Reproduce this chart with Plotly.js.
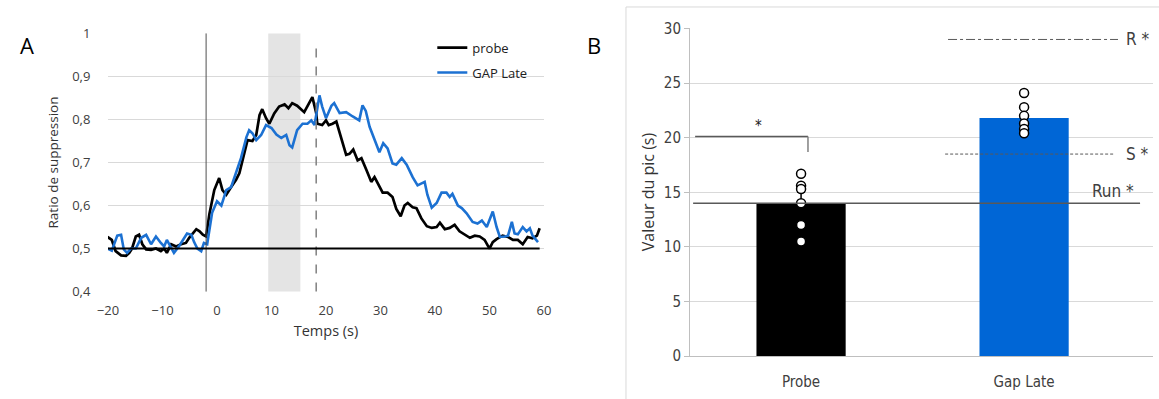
<!DOCTYPE html>
<html>
<head>
<meta charset="utf-8">
<script src="https://cdn.plot.ly/plotly-3.0.1.min.js"></script>
<style>html,body{margin:0;padding:0;background:#fff}#chart{width:1159px;height:399px}</style>
</head>
<body>
<div id="chart"></div>
<script>
// ---------- Panel A data (time course) ----------
const tProbe = [-20.1,-19.3,-18.6,-17.6,-16.7,-16.1,-15.6,-14.9,-14.3,-13.7,-13,-12.1,-11.2,-10.3,-9.7,-9.2,-8.4,-7.5,-6.6,-5.7,-5.1,-4.5,-3.8,-3.2,-2.6,-2.0,-1.4,-0.5,0.4,1.0,1.7,2.6,3.5,4.1,5.0,5.6,6.5,7.2,7.8,8.3,9.0,9.6,10.5,11.4,12.4,13.1,13.8,14.7,16.0,16.9,17.5,18.2,18.4,19.3,20.0,20.5,21.2,21.9,22.5,22.8,23.7,24.3,25.0,25.8,26.5,27.4,28.3,28.9,29.4,30.4,31.3,32.2,32.9,33.7,34.4,35.0,35.9,36.6,37.5,38.5,39.4,40.3,40.9,41.8,42.7,43.6,44.5,45.4,46.4,47.3,48.2,49.1,50.0,50.6,51.3,52.4,53.4,54.3,55.2,56.1,57.0,57.9,58.7,59.2];
const vProbe = [0.527,0.52,0.494,0.484,0.483,0.49,0.50,0.528,0.532,0.51,0.498,0.497,0.50,0.494,0.50,0.49,0.51,0.505,0.51,0.513,0.525,0.535,0.545,0.54,0.532,0.528,0.58,0.636,0.664,0.636,0.625,0.643,0.66,0.675,0.724,0.752,0.75,0.764,0.81,0.824,0.803,0.79,0.814,0.83,0.835,0.826,0.838,0.832,0.817,0.84,0.852,0.815,0.79,0.787,0.798,0.787,0.79,0.795,0.77,0.752,0.718,0.72,0.73,0.705,0.71,0.683,0.655,0.666,0.653,0.63,0.63,0.62,0.592,0.575,0.6,0.606,0.596,0.594,0.57,0.552,0.548,0.55,0.56,0.545,0.548,0.555,0.54,0.533,0.525,0.53,0.528,0.52,0.50,0.515,0.522,0.53,0.527,0.52,0.52,0.51,0.527,0.524,0.53,0.547];
const tGap = [-20.1,-19.3,-18.3,-17.6,-17.1,-16.5,-15.8,-14.9,-13.9,-13.0,-12.1,-11.2,-10.3,-9.7,-9.2,-8.4,-7.9,-7.0,-6.0,-5.5,-4.7,-4.2,-3.6,-2.9,-2.4,-1.8,-0.9,0.0,0.8,1.7,2.6,3.5,4.4,5.4,5.9,6.5,7.2,8.1,9.0,10.0,10.9,11.8,12.7,13.3,13.8,14.7,15.7,16.6,17.3,17.9,18.8,19.3,20.0,21.0,21.5,22.5,23.7,24.9,26.1,26.7,27.3,28.0,28.9,29.8,30.5,31.3,32.2,32.9,33.9,34.8,35.9,36.8,38.1,38.6,39.4,40.3,41.2,42.1,42.7,43.2,44.2,44.9,45.8,46.9,47.8,48.6,49.5,50.6,51.3,51.9,52.8,53.4,54.1,54.6,55.2,56.1,56.8,57.4,57.9,58.9];
const vGap = [0.50,0.495,0.53,0.532,0.498,0.49,0.50,0.50,0.525,0.532,0.51,0.528,0.513,0.505,0.52,0.50,0.49,0.505,0.525,0.535,0.532,0.515,0.50,0.494,0.513,0.51,0.583,0.61,0.60,0.636,0.643,0.675,0.71,0.759,0.775,0.768,0.752,0.764,0.787,0.78,0.765,0.757,0.764,0.74,0.735,0.775,0.79,0.79,0.798,0.787,0.856,0.83,0.803,0.832,0.838,0.815,0.817,0.807,0.798,0.833,0.82,0.783,0.752,0.724,0.745,0.733,0.698,0.695,0.71,0.695,0.666,0.647,0.655,0.625,0.595,0.606,0.63,0.63,0.62,0.627,0.60,0.594,0.582,0.562,0.558,0.565,0.55,0.586,0.55,0.527,0.528,0.53,0.562,0.535,0.533,0.55,0.54,0.547,0.53,0.515];
const seriesNames = ["probe", "GAP Late"];
const xTicksA = [-20,-10,0,10,20,30,40,50,60];
const yTicksA = [0.4,0.5,0.6,0.7,0.8,0.9,1];
const yTickTextA = ["0,4","0,5","0,6","0,7","0,8","0,9","1"];
const chanceLevel = 0.5;
const onsetTime = -2;
const bandTimes = [9.4, 15.3];
const dashedTime = 18.2;

// ---------- Panel B data (peak values) ----------
const groups = ["Probe", "Gap Late"];
const peakMeans = [14.0, 21.8];
const peakErr = [1.0, 0.8];
const probePoints = [16.7, 15.6, 15.3, 14.0, 12.0, 10.5];
const gapPoints = [24.1, 22.8, 22.0, 21.3, 20.8, 20.4];
const refNames = ["Run *", "S *", "R *"];
const refValues = [14.0, 18.5, 29.0];
const bracketValues = [20.1, 18.7];

const fontA = "Open Sans, Noto Sans, sans-serif";
const fontB = "Liberation Sans Narrow, DejaVu Sans Condensed, Arial Narrow, sans-serif";

const traces = [
  {x: tProbe, y: vProbe, type: "scatter", mode: "lines", name: seriesNames[0],
   line: {color: "#000000", width: 2.7}, xaxis: "x", yaxis: "y", legendgroup: "a"},
  {x: tGap, y: vGap, type: "scatter", mode: "lines", name: seriesNames[1],
   line: {color: "#1c71d2", width: 2.6}, xaxis: "x", yaxis: "y", legendgroup: "b"},
  {x: groups, y: peakMeans, type: "bar", width: 0.4, showlegend: false,
   marker: {color: ["#000000", "#0066d6"]},
   error_y: {type: "data", array: peakErr, visible: true, color: "#000", thickness: 1.5, width: 4},
   xaxis: "x2", yaxis: "y2"},
  {x: probePoints.map(() => groups[0]), y: probePoints, type: "scatter", mode: "markers", showlegend: false,
   marker: {symbol: "circle", size: 9, color: "#ffffff", line: {color: "#000", width: 1.5}},
   xaxis: "x2", yaxis: "y2"},
  {x: gapPoints.map(() => groups[1]), y: gapPoints, type: "scatter", mode: "markers", showlegend: false,
   marker: {symbol: "circle", size: 9, color: "#ffffff", line: {color: "#000", width: 1.5}},
   xaxis: "x2", yaxis: "y2"}
];

const shapes = [
  {type: "rect", xref: "x", yref: "y", x0: bandTimes[0], x1: bandTimes[1], y0: 0.4, y1: 1,
   fillcolor: "#e4e4e4", line: {width: 0}, layer: "below"},
  {type: "line", xref: "x", yref: "y", x0: onsetTime, x1: onsetTime, y0: 0.4, y1: 1,
   line: {color: "#505050", width: 1}},
  {type: "line", xref: "x", yref: "y", x0: dashedTime, x1: dashedTime, y0: 0.4, y1: 0.985,
   line: {color: "#808080", width: 1.5, dash: "dash"}},
  {type: "line", xref: "x", yref: "y", x0: -20, x1: 59.2, y0: chanceLevel, y1: chanceLevel,
   line: {color: "#000", width: 2}},
  {type: "rect", xref: "paper", yref: "paper", x0: 0.5401, x1: 1.01, y0: -0.01, y1: 0.9825,
   line: {color: "#d9d9d9", width: 1}, fillcolor: "rgba(0,0,0,0)"},
  {type: "line", xref: "x2", yref: "y2", x0: -0.484, x1: 1.52, y0: refValues[0], y1: refValues[0],
   line: {color: "#595959", width: 1.5}},
  {type: "line", xref: "x2", yref: "y2", x0: 0.646, x1: 1.408, y0: refValues[1], y1: refValues[1],
   line: {color: "#595959", width: 1, dash: "3px,2px"}},
  {type: "line", xref: "x2", yref: "y2", x0: 0.659, x1: 1.421, y0: refValues[2], y1: refValues[2],
   line: {color: "#595959", width: 1, dash: "dashdot"}},
  {type: "line", xref: "x2", yref: "y2", x0: -0.475, x1: 0.031, y0: bracketValues[0], y1: bracketValues[0],
   line: {color: "#595959", width: 1.5}},
  {type: "line", xref: "x2", yref: "y2", x0: 0.031, x1: 0.031, y0: bracketValues[0], y1: bracketValues[1],
   line: {color: "#808080", width: 1.5}}
];

const annotations = [
  {text: "A", xref: "paper", yref: "paper", x: 18/1159, y: 1 - 28/399, showarrow: false,
   font: {family: fontA, size: 22, color: "#000"}},
  {text: "B", xref: "paper", yref: "paper", x: 594/1159, y: 1 - 28/399, showarrow: false,
   font: {family: fontA, size: 22, color: "#000"}},
  {text: refNames[0], xref: "x2", yref: "y2", x: 1.50, y: refValues[0], yanchor: "bottom", xanchor: "right",
   showarrow: false, font: {family: fontB, size: 17, color: "#404040"}},
  {text: refNames[1], xref: "x2", yref: "y2", x: 1.45, y: refValues[1], xanchor: "left",
   showarrow: false, font: {family: fontB, size: 17, color: "#404040"}},
  {text: refNames[2], xref: "x2", yref: "y2", x: 1.45, y: refValues[2], xanchor: "left",
   showarrow: false, font: {family: fontB, size: 17, color: "#404040"}},
  {text: "*", xref: "x2", yref: "y2", x: -0.19, y: bracketValues[0], yanchor: "bottom",
   showarrow: false, font: {family: fontB, size: 15, color: "#202020"}}
];

const layout = {
  width: 1159, height: 399,
  margin: {l: 0, r: 0, t: 0, b: 0},
  paper_bgcolor: "#fff", plot_bgcolor: "rgba(0,0,0,0)",
  showlegend: true,
  legend: {x: 0.373, y: 0.918, xanchor: "left", yanchor: "top", bgcolor: "rgba(0,0,0,0)",
           font: {family: fontA, size: 13, color: "#202020"}, traceorder: "grouped", tracegroupgap: 5},
  xaxis: {domain: [108/1159, 544/1159], range: [-20, 60], tickvals: xTicksA, showgrid: false,
          zeroline: false, showline: false, ticks: "outside", ticklen: 6, tickcolor: "rgba(0,0,0,0)",
          tickfont: {family: fontA, size: 13, color: "#404040"},
          title: {text: "Temps (s)", standoff: 8, font: {family: fontA, size: 14.5, color: "#333"}}, anchor: "y"},
  yaxis: {domain: [1 - 292/399, 1 - 33/399], range: [0.399, 1.001], tickvals: yTicksA, ticktext: yTickTextA,
          showgrid: true, gridcolor: "#d9d9d9", gridwidth: 1, zeroline: false, showline: false,
          ticks: "outside", ticklen: 14, tickcolor: "rgba(0,0,0,0)",
          tickfont: {family: fontA, size: 13, color: "#404040"},
          title: {text: "Ratio de suppression", standoff: 10, font: {family: fontA, size: 13.5, color: "#333"}}, anchor: "x"},
  xaxis2: {domain: [690/1159, 1153/1159], range: [-0.498, 1.578], type: "category",
           showgrid: false, zeroline: false, showline: true, linecolor: "#bfbfbf",
           ticks: "outside", ticklen: 12, tickcolor: "rgba(0,0,0,0)",
           tickfont: {family: fontB, size: 15, color: "#404040"}, anchor: "y2"},
  yaxis2: {domain: [1 - 356/399, 1 - 28/399], range: [0, 30.05], dtick: 5, tick0: 0,
           showgrid: true, gridcolor: "#d9d9d9", zeroline: false, showline: true, linecolor: "#bfbfbf",
           ticks: "outside", ticklen: 5, tickcolor: "#bfbfbf",
           tickfont: {family: fontB, size: 15, color: "#404040"},
           title: {text: "Valeur du pic (s)", standoff: 5, font: {family: fontA, size: 16, color: "#333"}}, anchor: "x2"},
  shapes: shapes,
  annotations: annotations
};

Plotly.newPlot("chart", traces, layout, {displayModeBar: false, staticPlot: true});
</script>
</body>
</html>
